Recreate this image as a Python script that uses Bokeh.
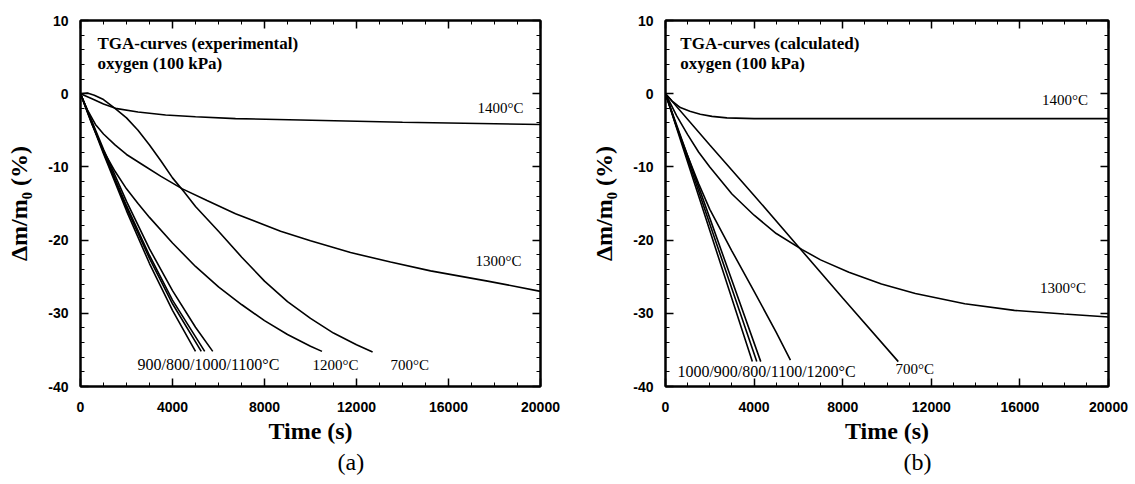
from bokeh.plotting import figure
from bokeh.layouts import row
from bokeh.models import (Label, LinearAxis, FixedTicker, Title, Range1d,
                          CustomLabelingPolicy)
from bokeh.embed import file_html
from bokeh.resources import INLINE

# ---------------- tick values / labels ----------------
x_ticks = [0, 4000, 8000, 12000, 16000, 20000]
x_tick_labels = ["0", "4000", "8000", "12000", "16000", "20000"]
x_minor = [0, 1000, 2000, 3000, 4000, 5000, 6000, 7000, 8000, 9000, 10000,
           11000, 12000, 13000, 14000, 15000, 16000, 17000, 18000, 19000, 20000]
y_ticks = [-40, -30, -20, -10, 0, 10]
y_tick_labels = ["-40", "-30", "-20", "-10", "0", "10"]
y_minor = [-40, -38, -36, -34, -32, -30, -28, -26, -24, -22, -20, -18, -16, -14,
           -12, -10, -8, -6, -4, -2, 0, 2, 4, 6, 8, 10]

# ---------------- panel (a): experimental ----------------
a_1400_t = [0, 500, 1000, 1520, 2500, 3700, 5000, 6740, 9565, 14000, 20000]
a_1400_m = [0, -0.7, -1.4, -2.0, -2.5, -2.9, -3.15, -3.4, -3.6, -3.9, -4.2]

a_1300_t = [0, 300, 650, 1000, 1500, 2000, 2700, 3500, 4430, 5500, 6740, 8700,
            10000, 11740, 13480, 15220, 17700, 20000]
a_1300_m = [0, -2.2, -4.2, -5.5, -7.0, -8.3, -9.7, -11.3, -13.0, -14.6, -16.4, -18.8,
            -20.1, -21.7, -23.0, -24.2, -25.6, -27.0]

a_1200_t = [0, 500, 1000, 1500, 2000, 2500, 3000, 4000, 5000, 6000, 7000, 8000,
            9000, 10000, 10500]
a_1200_m = [0, -4.2, -7.8, -10.6, -13.0, -15.0, -16.9, -20.4, -23.6, -26.4, -28.8,
            -31.0, -32.9, -34.5, -35.2]

a_700_t = [0, 300, 600, 1000, 1500, 2000, 2500, 3000, 3500, 4000, 4500, 5000, 6000,
           7000, 8000, 9000, 10000, 11000, 12000, 12700]
a_700_m = [0, 0.1, -0.2, -0.8, -2.0, -3.3, -5.0, -7.0, -9.2, -11.5, -13.4, -15.4,
           -18.8, -22.3, -25.6, -28.4, -30.7, -32.7, -34.3, -35.3]

a_900_t = [0, 1000, 2000, 3000, 4000, 5000]
a_900_m = [0, -8.2, -16.0, -23.2, -29.6, -35.2]
a_800_t = [0, 1000, 2000, 3000, 4000, 5250]
a_800_m = [0, -8.0, -15.6, -22.5, -28.7, -35.2]
a_1000_t = [0, 1000, 2000, 3000, 4000, 5400]
a_1000_m = [0, -7.9, -15.3, -22.1, -28.2, -35.2]
a_1100_t = [0, 1000, 2000, 3000, 4000, 5000, 5750]
a_1100_m = [0, -7.6, -14.7, -21.2, -26.9, -31.9, -35.2]

# ---------------- panel (b): calculated ----------------
b_1400_t = [0, 300, 670, 1100, 1570, 2100, 2770, 4000, 6040, 20000]
b_1400_m = [0, -1.0, -1.9, -2.4, -2.8, -3.1, -3.3, -3.4, -3.4, -3.4]

b_1300_t = [0, 500, 1000, 1500, 2000, 3000, 4000, 5000, 6170, 7000, 8280, 9750,
            11280, 13510, 15750, 17990, 20000]
b_1300_m = [0, -3.0, -5.6, -8.0, -10.0, -13.7, -16.6, -19.1, -21.3, -22.7, -24.4,
            -26.0, -27.3, -28.7, -29.6, -30.1, -30.5]

b_700_t = [0, 2000, 4000, 6000, 8000, 10510]
b_700_m = [0, -7.0, -13.9, -20.9, -27.9, -36.6]

b_1000_t = [0, 2000, 3920]
b_1000_m = [0, -18.7, -36.6]
b_900_t = [0, 2000, 4120]
b_900_m = [0, -17.8, -36.6]
b_800_t = [0, 2000, 4300]
b_800_m = [0, -17.0, -36.6]
b_1100_1200_t = [0, 500, 1000, 1500, 2000, 3000, 4000, 5000, 5640]
b_1100_1200_m = [0, -4.5, -8.5, -12.3, -15.8, -21.5, -27.0, -32.6, -36.4]

SERIF = "Liberation Serif"
SANS = "Liberation Sans"


def make_panel(width, min_left, min_right, min_top, min_bottom, series, texts,
               tag, tag_offset):
    p = figure(width=width, height=484, output_backend="svg", toolbar_location=None,
               x_range=Range1d(0, 20000), y_range=Range1d(-40, 10),
               min_border_left=min_left, min_border_right=min_right,
               min_border_top=min_top, min_border_bottom=min_bottom,
               background_fill_color="white", border_fill_color="white",
               outline_line_color="black", outline_line_width=2)
    p.xgrid.visible = False
    p.ygrid.visible = False

    bottom = p.below[0]
    left = p.left[0]

    x_over = {float(v): s for v, s in zip(x_ticks, x_tick_labels)}
    y_over = {float(v): s for v, s in zip(y_ticks, y_tick_labels)}

    bottom.ticker = FixedTicker(ticks=x_ticks, minor_ticks=x_minor)
    bottom.major_label_overrides = x_over
    bottom.axis_label = "Time (s)"
    left.ticker = FixedTicker(ticks=y_ticks, minor_ticks=y_minor)
    left.major_label_overrides = y_over
    left.axis_label = "\u0394m/m\u2080 (%)"

    hide = "for (const i of indices) { indices.unset(i) }\nreturn indices"
    top = LinearAxis(ticker=FixedTicker(ticks=x_ticks, minor_ticks=x_minor),
                     major_label_policy=CustomLabelingPolicy(code=hide))
    right = LinearAxis(ticker=FixedTicker(ticks=y_ticks, minor_ticks=y_minor),
                       major_label_policy=CustomLabelingPolicy(code=hide))
    p.add_layout(top, "above")
    p.add_layout(right, "right")

    for ax in [bottom, left, top, right]:
        ax.axis_line_width = 2
        ax.axis_line_color = "black"
        ax.major_tick_in = 8
        ax.major_tick_out = 0
        ax.minor_tick_in = 4
        ax.minor_tick_out = 0
        ax.major_tick_line_width = 1.5
        ax.minor_tick_line_width = 1
        ax.major_label_text_font = SANS
        ax.major_label_text_font_style = "bold"
        ax.major_label_text_font_size = "14px"
        ax.major_label_text_color = "black"
        ax.axis_label_text_font = SERIF
        ax.axis_label_text_font_style = "bold"
        ax.axis_label_text_font_size = "24px"
        ax.axis_label_text_color = "black"
    for ax in [top, right]:
        ax.major_label_standoff = 0

    bottom.major_label_standoff = 15
    bottom.axis_label_standoff = 3
    left.major_label_standoff = 12
    left.axis_label_standoff = 13

    for t, m in series:
        p.line(t, m, line_color="black", line_width=1.6)

    for (x, y, txt, font, size, style) in texts:
        p.add_layout(Label(x=x, y=y, text=txt, text_font=font, text_font_size=size,
                           text_font_style=style, text_align="left",
                           text_baseline="middle", text_color="black"))

    p.add_layout(Title(text=tag, align="left", offset=tag_offset,
                       text_font=SERIF, text_font_style="normal",
                       text_font_size="24px", text_color="black", standoff=0), "below")
    return p


series_a = [(a_1400_t, a_1400_m), (a_1300_t, a_1300_m), (a_1200_t, a_1200_m),
            (a_700_t, a_700_m), (a_900_t, a_900_m), (a_800_t, a_800_m),
            (a_1000_t, a_1000_m), (a_1100_t, a_1100_m)]
texts_a = [
    (740, 6.9, "TGA-curves (experimental)", SERIF, "17px", "bold"),
    (740, 4.1, "oxygen (100 kPa)", SERIF, "17px", "bold"),
    (17260, -2.0, "1400\u00b0C", SERIF, "15px", "normal"),
    (17170, -22.9, "1300\u00b0C", SERIF, "15px", "normal"),
    (10090, -37.0, "1200\u00b0C", SERIF, "15px", "normal"),
    (13480, -37.0, "700\u00b0C", SERIF, "15px", "normal"),
    (2480, -37.0, "900/800/1000/1100\u00b0C", SERIF, "16px", "normal"),
]

series_b = [(b_1400_t, b_1400_m), (b_1300_t, b_1300_m), (b_700_t, b_700_m),
            (b_1000_t, b_1000_m), (b_900_t, b_900_m), (b_800_t, b_800_m),
            (b_1100_1200_t, b_1100_1200_m)]
texts_b = [
    (671, 6.85, "TGA-curves (calculated)", SERIF, "17px", "bold"),
    (671, 4.15, "oxygen (100 kPa)", SERIF, "17px", "bold"),
    (17000, -0.9, "1400\u00b0C", SERIF, "15px", "normal"),
    (16910, -26.6, "1300\u00b0C", SERIF, "15px", "normal"),
    (10380, -37.6, "700\u00b0C", SERIF, "15px", "normal"),
    (537, -37.9, "1000/900/800/1100/1200\u00b0C", SERIF, "16px", "normal"),
]

pa = make_panel(575, 80, 35, 20, 98, series_a, texts_a, "(a)", 257)
pb = make_panel(560, 90, 23, 14, 98, series_b, texts_b, "(b)", 238)

layout = row(pa, pb)
open("out.html", "w").write(file_html(layout, INLINE))
